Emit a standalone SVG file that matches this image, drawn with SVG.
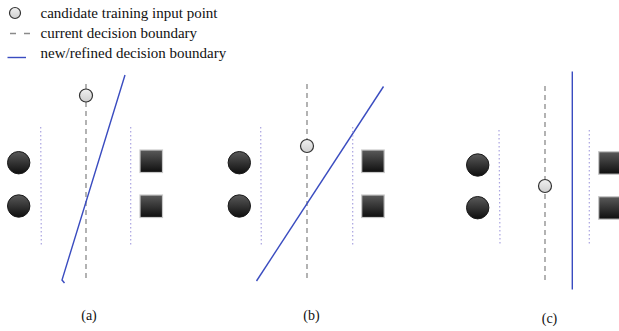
<svg xmlns="http://www.w3.org/2000/svg" width="619" height="331" viewBox="0 0 619 331">
<defs>
<linearGradient id="g" x1="0" y1="0" x2="0" y2="1">
<stop offset="0" stop-color="#5a5a5a"/>
<stop offset="1" stop-color="#0e0e0e"/>
</linearGradient>
<linearGradient id="gc" x1="0" y1="0" x2="0" y2="1">
<stop offset="0" stop-color="#f0f0f0"/>
<stop offset="1" stop-color="#cfcfcf"/>
</linearGradient>
</defs>
<style>
text{font-family:"Liberation Serif","Times New Roman",serif;fill:#111}
.leg{font-size:15px}
.lab{font-size:14px}
.dash{stroke:#8a8a8a;stroke-width:1.3;stroke-dasharray:5,4;fill:none}
.blue{stroke:#3a4cc0;stroke-width:1.4;fill:none}
.dot{stroke:#a9a3e0;stroke-width:1.2;stroke-dasharray:1.5,2.5;fill:none}
.neg{fill:url(#g);stroke:#1a1a1a;stroke-width:1}
.pos{fill:url(#g);stroke:#c8c8c8;stroke-width:1.2}
.cand{fill:url(#gc);stroke:#333;stroke-width:1.2}
</style>
<g id="legend">
<circle class="cand" cx="15" cy="13" r="5.5"/>
<text class="leg" x="40.5" y="17.5">candidate training input point</text>
<line class="dash" x1="10" y1="33.5" x2="30" y2="33.5" style="stroke-dasharray:6,8"/>
<text class="leg" x="40.5" y="37.5">current decision boundary</text>
<line class="blue" x1="7.5" y1="57.5" x2="26" y2="57.5"/>
<text class="leg" x="40.5" y="57.5">new/refined decision boundary</text>
</g>
<g id="connectors">
<line class="dash" x1="86" y1="84" x2="86" y2="282"/>
<polyline class="blue" points="125,75 62,280 64.5,283"/>
<line class="dot" x1="40.7" y1="127" x2="41.3" y2="245"/>
<line class="dot" x1="130.7" y1="127" x2="130.7" y2="245"/>
<line class="dash" x1="307" y1="84" x2="307" y2="282"/>
<line class="blue" x1="256.5" y1="281" x2="383.5" y2="86.5"/>
<line class="dot" x1="260.7" y1="127" x2="261.3" y2="245"/>
<line class="dot" x1="352.7" y1="127" x2="352.7" y2="245"/>
<line class="dash" x1="545" y1="86" x2="545" y2="283"/>
<line class="blue" x1="572.3" y1="71.5" x2="572.3" y2="289.5"/>
<line class="dot" x1="499" y1="130" x2="500" y2="245"/>
<line class="dot" x1="589.3" y1="130" x2="589.3" y2="245"/>
</g>
<g id="panel-a">
<circle class="neg" cx="18.7" cy="162.7" r="11.2"/>
<circle class="neg" cx="18.7" cy="206" r="11.2"/>
<rect class="pos" x="140" y="150" width="22.5" height="22.5"/>
<rect class="pos" x="140" y="195" width="22.5" height="22.5"/>
<circle class="cand" cx="86" cy="95.5" r="6.5"/>
<text class="lab" x="89" y="320" text-anchor="middle">(a)</text>
</g>
<g id="panel-b">
<circle class="neg" cx="239.3" cy="162.7" r="11.2"/>
<circle class="neg" cx="239.3" cy="206" r="11.2"/>
<rect class="pos" x="361.7" y="150" width="22.5" height="22.5"/>
<rect class="pos" x="361.7" y="195" width="22.5" height="22.5"/>
<circle class="cand" cx="307" cy="146" r="6.5"/>
<text class="lab" x="311.5" y="320" text-anchor="middle">(b)</text>
</g>
<g id="panel-c">
<circle class="neg" cx="477.7" cy="165" r="11.2"/>
<circle class="neg" cx="477.7" cy="207.7" r="11.2"/>
<rect class="pos" x="598.7" y="151.7" width="22.5" height="22.5"/>
<rect class="pos" x="598.7" y="196.7" width="22.5" height="22.5"/>
<circle class="cand" cx="545" cy="186" r="6.5"/>
<text class="lab" x="549.5" y="323" text-anchor="middle">(c)</text>
</g>
</svg>
